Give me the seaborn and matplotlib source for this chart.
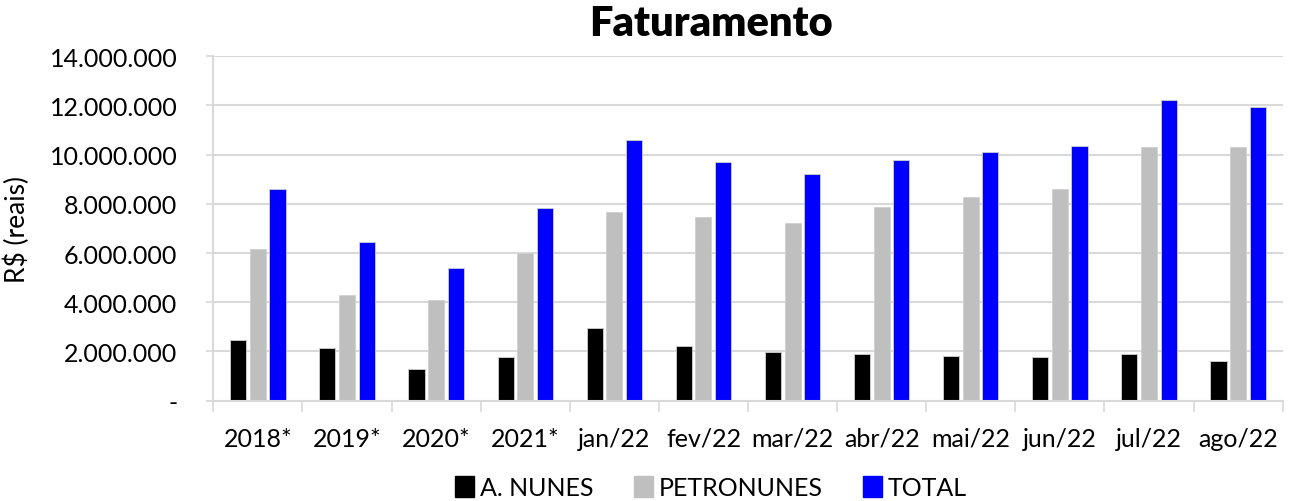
import matplotlib
matplotlib.use('Agg')
import matplotlib.pyplot as plt
import matplotlib.ticker as mticker
import numpy as np
import pandas as pd
import seaborn as sns

periods = ['2018*', '2019*', '2020*', '2021*', 'jan/22', 'fev/22', 'mar/22',
           'abr/22', 'mai/22', 'jun/22', 'jul/22', 'ago/22']
a_nunes = [2.45, 2.15, 1.28, 1.78, 2.95, 2.24, 1.99, 1.89, 1.81, 1.76, 1.88, 1.61]
petronunes = [6.16, 4.28, 4.11, 6.00, 7.68, 7.47, 7.22, 7.88, 8.28, 8.62, 10.32, 10.32]
total = [8.62, 6.43, 5.41, 7.81, 10.61, 9.72, 9.20, 9.78, 10.09, 10.36, 12.22, 11.95]
series = ['A. NUNES', 'PETRONUNES', 'TOTAL']
colors = ['#000000', '#bfbfbf', '#0000ff']

rows = []
for name, vals in zip(series, [a_nunes, petronunes, total]):
    for p, v in zip(periods, vals):
        rows.append({'periodo': p, 'empresa': name, 'valor': v * 1e6})
df = pd.DataFrame(rows)

sns.set_style('white')
plt.rcParams['font.family'] = ['Lato', 'DejaVu Sans']
plt.rcParams['text.color'] = 'black'
plt.rcParams['axes.labelcolor'] = 'black'
plt.rcParams['xtick.labelcolor'] = 'black'
plt.rcParams['ytick.labelcolor'] = 'black'

fig = plt.figure(figsize=(12.93, 5.02), dpi=100)
ax = fig.add_axes([0.165, 0.2, 0.827, 0.686])

sns.barplot(data=df, x='periodo', y='valor', hue='empresa', order=periods,
            hue_order=series, palette=colors, saturation=1, width=0.66, gap=0.18,
            edgecolor='#d0d0d0', linewidth=0.6, ax=ax, legend=True)

ax.set_ylim(0, 14e6)
ax.set_xlim(-0.5, len(periods) - 0.5)
ax.yaxis.set_major_locator(mticker.MultipleLocator(2e6))


def fmt(v, pos):
    if v == 0:
        return '-'
    return '{:,.0f}'.format(v).replace(',', '.')


ax.yaxis.set_major_formatter(mticker.FuncFormatter(fmt))
ax.grid(axis='y', color='#d9d9d9', linewidth=1.5)
ax.set_axisbelow(True)
for s in ['top', 'right']:
    ax.spines[s].set_visible(False)
for s in ['left', 'bottom']:
    ax.spines[s].set_color('#d9d9d9')
    ax.spines[s].set_linewidth(1.5)

ax.tick_params(axis='y', labelsize=18, length=5, width=1.2, color='#d9d9d9',
               labelcolor='black', pad=21, left=True)
ax.tick_params(axis='x', which='major', labelsize=18, length=0, pad=19,
               labelcolor='black')
ax.set_xticks(np.arange(-0.5, len(periods)), minor=True)
ax.tick_params(axis='x', which='minor', length=8, width=1.2, color='#d9d9d9',
               bottom=True)

ax.set_xlabel('')
ax.set_ylabel('R$ (reais)', fontsize=19, labelpad=14, color='black')
fig.suptitle('Faturamento', fontsize=30, fontweight='heavy', x=0.55, y=0.99,
             color='black')

ax.get_legend().remove()
handles = [plt.Rectangle((0, 0), 1, 1, color=c) for c in colors]
fig.legend(handles, series, loc='center', bbox_to_anchor=(0.55, 0.026),
           ncol=3, frameon=False, fontsize=18, handlelength=0.75,
           handleheight=0.9, handletextpad=0.25, columnspacing=1.6)

fig.savefig('out.png', dpi=100)
